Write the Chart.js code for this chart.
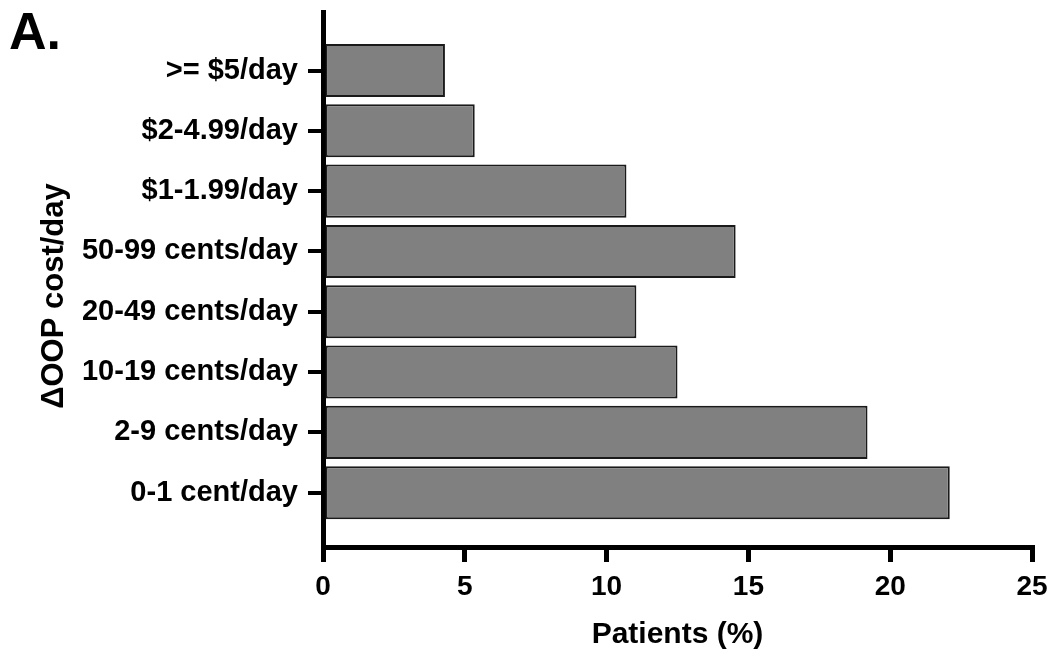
<!DOCTYPE html>
<html>
<head>
<meta charset="utf-8">
<script src="https://cdn.jsdelivr.net/npm/chart.js@4"></script>
<style>
  body { margin: 0; background: #fff; }
  #wrap { position: relative; width: 1052px; height: 657px; }
  #panel { position: absolute; left: 9px; top: 5px; font: bold 52px "Liberation Sans", Arial, sans-serif; line-height: 1; color: #000; }
</style>
</head>
<body>
<div id="wrap">
  <canvas id="myChart" width="1052" height="657"></canvas>
  <div id="panel">A.</div>
</div>
<script>
// categories top to bottom, as in the figure
var categories = ['>= $5/day', '$2-4.99/day', '$1-1.99/day', '50-99 cents/day',
  '20-49 cents/day', '10-19 cents/day', '2-9 cents/day', '0-1 cent/day'];
var patients = [4.3, 5.35, 10.7, 14.55, 11.05, 12.5, 19.2, 22.1];
var xTicks = [0, 5, 10, 15, 20, 25];

var yTitle = '\u0394OOP cost/day';
var xTitle = 'Patients (%)';

Chart.defaults.font.family = '"Liberation Sans", Arial, sans-serif';
Chart.defaults.font.weight = 'bold';
Chart.defaults.color = '#000';

// y axis title drawn by hand so it sits where GraphPad put it
var yTitlePlugin = {
  id: 'yTitle',
  afterDraw: function(chart) {
    var ctx = chart.ctx;
    ctx.save();
    ctx.translate(63, 296);
    ctx.rotate(-Math.PI / 2);
    ctx.font = 'bold 31px "Liberation Sans", Arial, sans-serif';
    ctx.fillStyle = '#000';
    ctx.textAlign = 'center';
    ctx.textBaseline = 'alphabetic';
    ctx.fillText(yTitle, 0, 0);
    ctx.restore();
  }
};

var ctx = document.getElementById('myChart').getContext('2d');
var myChart = new Chart(ctx, {
  type: 'bar',
  data: {
    datasets: [{
      data: patients.map(function(v, i) { return {x: v, y: i}; }),
      backgroundColor: '#808080',
      borderColor: '#1a1a1a',
      borderWidth: 2,
      borderSkipped: false,
      barPercentage: 0.88,
      categoryPercentage: 1
    }]
  },
  options: {
    indexAxis: 'y',
    responsive: false,
    animation: false,
    layout: { padding: { left: 0, right: 20, top: 12, bottom: 0 } },
    plugins: { legend: { display: false }, tooltip: { enabled: false } },
    scales: {
      x: {
        type: 'linear',
        position: 'bottom',
        min: 0,
        max: 25,
        afterBuildTicks: function(scale) {
          scale.ticks = xTicks.map(function(v) { return {value: v}; });
        },
        afterFit: function(scale) {
          scale.height = 110;
          scale.paddingLeft = 0;
          scale.paddingRight = 0;
        },
        ticks: { font: { size: 28 }, padding: 8, maxRotation: 0 },
        grid: { drawOnChartArea: false, tickLength: 15, lineWidth: 5, color: '#000' },
        border: { display: true, width: 5, color: '#000' },
        title: { display: true, text: xTitle, font: { size: 30 }, padding: { top: 0, bottom: 4 } }
      },
      y: {
        type: 'linear',
        position: 'left',
        reverse: true,
        offset: false,
        min: -0.97,
        max: 7.9,
        afterBuildTicks: function(scale) {
          scale.ticks = categories.map(function(c, i) { return {value: i}; });
        },
        afterFit: function(scale) {
          scale.width = 323;
          scale.paddingTop = 0;
          scale.paddingBottom = 0;
        },
        ticks: {
          font: { size: 29 },
          padding: 10,
          callback: function(value) { return categories[value]; }
        },
        grid: { offset: false, drawOnChartArea: false, tickLength: 15, lineWidth: 4, color: '#000' },
        border: { display: true, width: 5, color: '#000' }
      }
    }
  },
  plugins: [yTitlePlugin]
});
</script>
</body>
</html>
